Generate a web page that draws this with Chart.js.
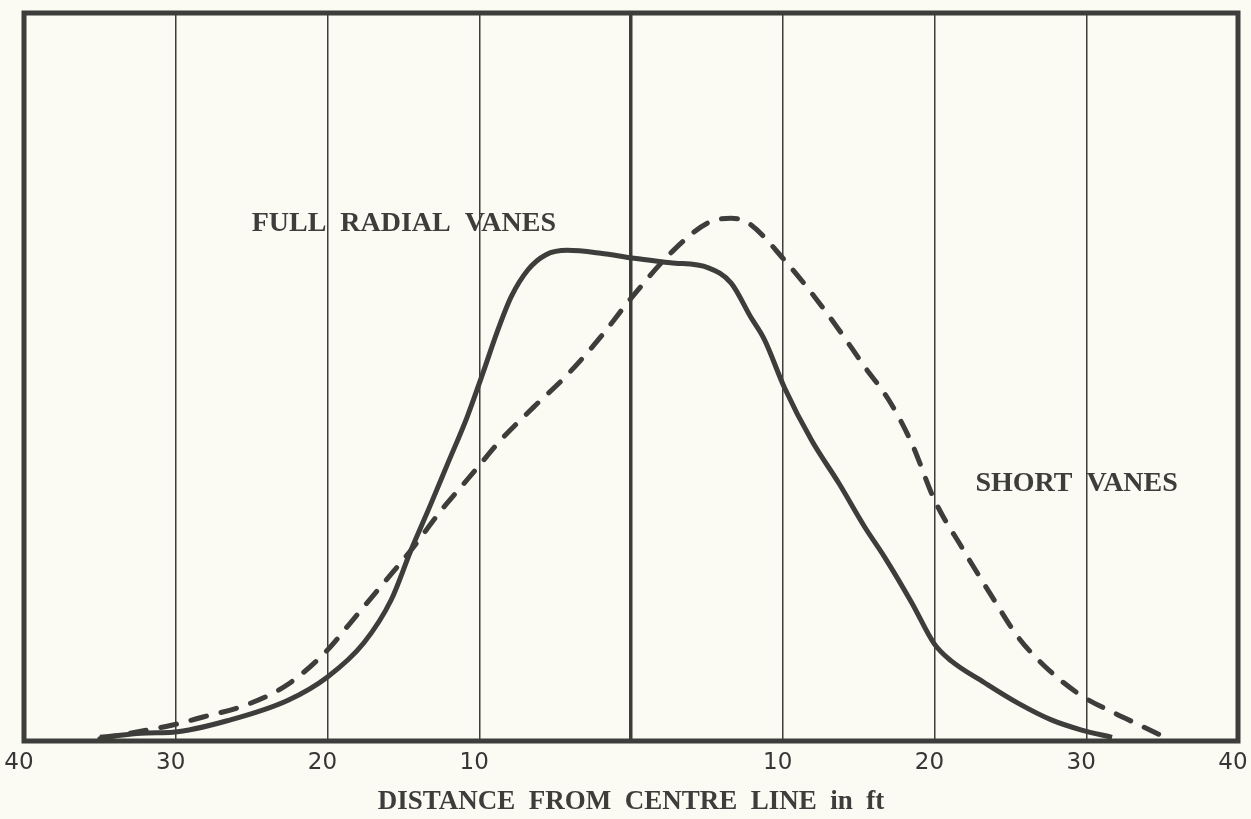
<!DOCTYPE html>
<html>
<head>
<meta charset="utf-8">
<script src="https://cdn.jsdelivr.net/npm/chart.js@4/dist/chart.umd.min.js"></script>
<style>
  html, body { margin: 0; padding: 0; background: #fbfaf3; }
  #wrap { width: 1251px; height: 819px; position: relative; }
</style>
</head>
<body>
<div id="wrap"><canvas id="vaneChart"></canvas></div>
<script>
// distance from centre line (ft) and relative value
const fullDist = [-35.0, -31.9, -30.2, -26.4, -22.6, -20.0, -17.6, -15.8, -14.5, -13.2, -12.1, -10.8, -9.8, -8.8, -7.9, -6.8, -5.6, -4.2, -2.0, 0.2, 2.6, 5.1, 6.6, 7.9, 8.8, 10.1, 11.9, 13.7, 15.4, 16.7, 18.5, 20.0, 21.1, 23.3, 25.5, 27.7, 29.7, 31.7];
const fullVal  = [0.5, 1.1, 1.2, 2.9, 5.6, 8.8, 13.5, 19.4, 26.2, 32.5, 38.0, 44.5, 50.3, 56.3, 61.0, 64.7, 66.8, 67.4, 67.0, 66.3, 65.7, 65.0, 62.9, 58.2, 55.1, 48.6, 41.3, 35.4, 29.4, 25.3, 19.0, 13.3, 11.0, 8.0, 5.2, 2.9, 1.5, 0.5];

const shortDist = [-35.0, -31.9, -30.2, -28.2, -25.3, -22.6, -20.0, -18.5, -16.5, -14.5, -12.5, -11.2, -10.1, -8.6, -6.4, -4.2, -2.0, 0.0, 2.8, 5.1, 6.6, 7.7, 10.1, 12.1, 13.7, 15.4, 17.0, 18.5, 20.0, 21.8, 23.8, 25.5, 27.3, 29.7, 31.7, 33.7, 35.2];
const shortVal  = [0.3, 1.5, 2.2, 3.3, 5.0, 7.8, 12.5, 16.2, 21.2, 26.2, 31.7, 34.9, 37.6, 41.3, 45.9, 50.3, 55.5, 60.8, 67.4, 71.2, 71.8, 71.2, 66.1, 61.0, 56.5, 51.4, 46.8, 40.9, 33.1, 26.6, 19.8, 14.3, 10.2, 6.2, 4.0, 2.0, 0.5];

const xTicks = [-40, -30, -20, -10, 0, 10, 20, 30, 40];

const curveLabels = [
    { text: 'FULL  RADIAL  VANES', x: -25.0, y: 71.1 },
    { text: 'SHORT  VANES', x: 22.7, y: 35.4 }
];

const ink = '#3d3d3b';

const toPoints = (xs, ys) => xs.map((x, i) => ({ x: x, y: ys[i] }));

// frame round the plot and the curve captions
const framePlugin = {
    id: 'frame',
    beforeDatasetsDraw(chart) {
        const { ctx, chartArea: a } = chart;
        ctx.save();
        ctx.strokeStyle = ink;
        ctx.lineWidth = 5;
        ctx.strokeRect(a.left, a.top, a.right - a.left, a.bottom - a.top);
        ctx.restore();
    },
    afterDatasetsDraw(chart) {
        const { ctx, scales } = chart;
        ctx.save();
        ctx.fillStyle = ink;
        ctx.font = 'bold 28px "Liberation Serif", "Times New Roman", serif';
        ctx.textAlign = 'left';
        ctx.textBaseline = 'middle';
        curveLabels.forEach(l => {
            ctx.fillText(l.text, scales.x.getPixelForValue(l.x), scales.y.getPixelForValue(l.y));
        });
        ctx.restore();
    }
};

const ctx = document.getElementById('vaneChart').getContext('2d');
const chart = new Chart(ctx, {
    type: 'line',
    data: {
        datasets: [
            {
                label: 'FULL RADIAL VANES',
                data: toPoints(fullDist, fullVal),
                borderColor: ink,
                borderWidth: 5,
                pointRadius: 0,
                cubicInterpolationMode: 'monotone',
                fill: false
            },
            {
                label: 'SHORT VANES',
                data: toPoints(shortDist, shortVal),
                borderColor: ink,
                borderWidth: 5,
                borderDash: [16, 15],
                borderCapStyle: 'round',
                pointRadius: 0,
                cubicInterpolationMode: 'monotone',
                fill: false
            }
        ]
    },
    options: {
        responsive: true,
        maintainAspectRatio: false,
        animation: false,
        layout: { padding: { left: 24, right: 13, top: 13, bottom: 0 } },
        plugins: {
            legend: { display: false },
            tooltip: { enabled: false }
        },
        scales: {
            x: {
                type: 'linear',
                min: -40,
                max: 40,
                afterBuildTicks: axis => { axis.ticks = xTicks.map(v => ({ value: v })); },
                afterFit: axis => { axis.paddingLeft = 0; axis.paddingRight = 0; },
                border: { display: false },
                grid: {
                    drawTicks: false,
                    color: ink,
                    lineWidth: c => {
                        const v = c.tick ? c.tick.value : null;
                        if (v === 0) return 3.5;
                        if (Math.abs(v) === 40) return 0;
                        return 1.5;
                    }
                },
                ticks: {
                    color: '#363636',
                    padding: 8,
                    labelOffset: -5,
                    maxRotation: 0,
                    font: { family: '"DejaVu Sans", sans-serif', size: 23 },
                    callback: v => v === 0 ? '' : String(Math.abs(v))
                },
                title: {
                    display: true,
                    text: 'DISTANCE  FROM  CENTRE  LINE  in  ft',
                    color: ink,
                    padding: { top: 1, bottom: 1 },
                    font: { family: '"Liberation Serif", "Times New Roman", serif', size: 27, weight: 'bold' }
                }
            },
            y: {
                display: false,
                min: 0,
                max: 100
            }
        }
    },
    plugins: [framePlugin]
});
</script>
</body>
</html>
